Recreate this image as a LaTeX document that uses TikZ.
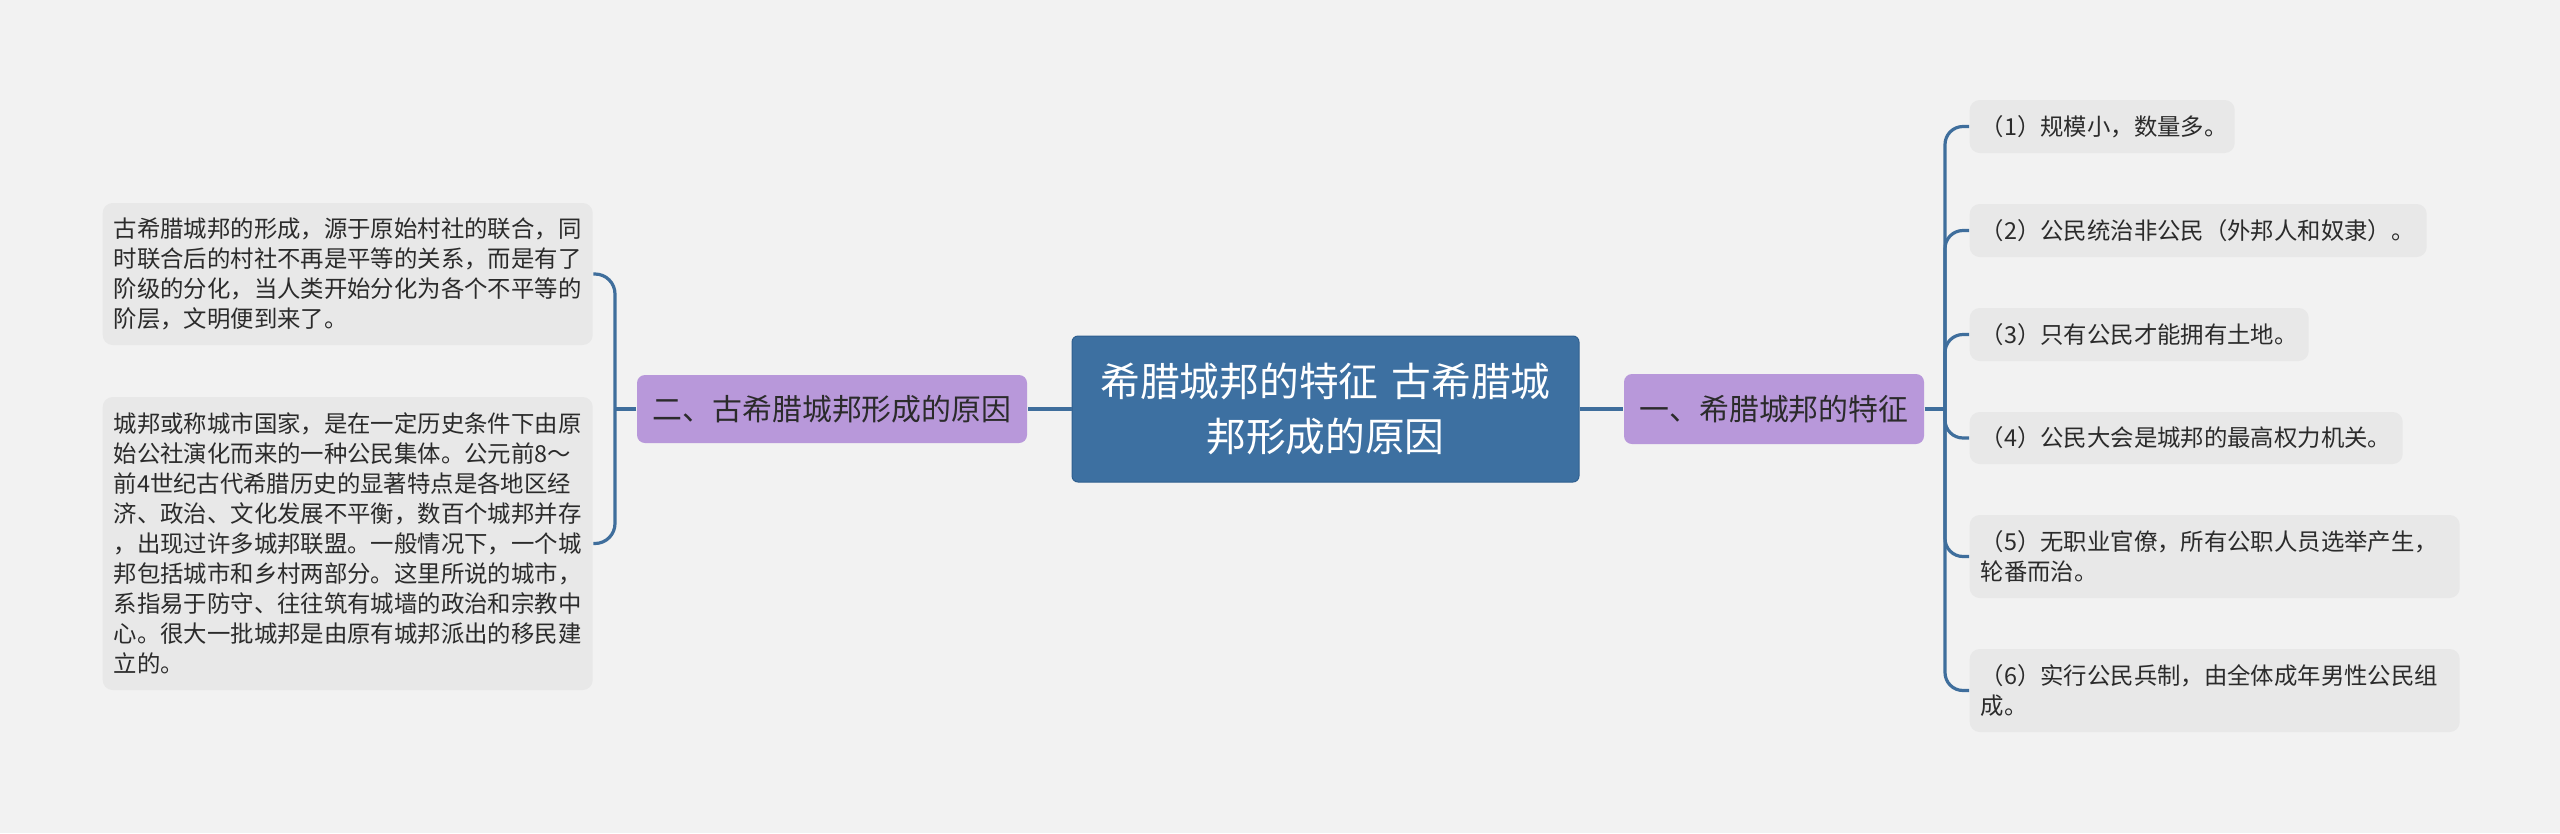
\documentclass[tikz,border=0pt]{standalone}
\usepackage{fontspec}
\setmainfont{Noto Sans CJK SC}
\definecolor{bg}{HTML}{F2F2F2}
\definecolor{rootblue}{HTML}{3D70A1}
\definecolor{rootedge}{HTML}{2F5F8F}
\definecolor{purp}{HTML}{B898DA}
\definecolor{leafc}{HTML}{E8E8E8}
\definecolor{txt}{HTML}{2B2B2B}
\definecolor{linkc}{HTML}{3F6E9C}
\newdimen\px \px=0.01cm
\begin{document}
\begin{tikzpicture}[x=0.01cm,y=-0.01cm,
  root/.style={fill=rootblue, draw=rootedge, line width=1\px, rounded corners=6\px, text=white, inner sep=0pt, font=\fontsize{11.3pt}{15.4pt}\selectfont, align=center},
  branch/.style={fill=purp, rounded corners=8\px, text=txt, inner sep=0pt, font=\fontsize{8.5pt}{10pt}\selectfont, align=center},
  leaf/.style={fill=leafc, rounded corners=10\px, text=txt, inner xsep=11\px, inner ysep=0pt, font=\fontsize{6.65pt}{8.53pt}\selectfont, align=left, anchor=west},
  link/.style={draw=linkc, line width=3.2\px}]
\path[fill=bg] (0,0) rectangle (2560,833);
\useasboundingbox (0,0) rectangle (2560,833);

\node[root, text width=500\px, minimum width=507\px, minimum height=146\px] (root) at (1325.5,409) {希腊城邦的特征 古希腊城\\邦形成的原因};

\node[branch, minimum width=390\px, minimum height=68\px] (lb) at (832,409) {二、古希腊城邦形成的原因};
\node[branch, minimum width=300\px, minimum height=70\px] (rb) at (1774,409) {一、希腊城邦的特征};

\node[leaf, text width=468\px, minimum height=142\px] (l1) at (102,274) {古希腊城邦的形成，源于原始村社的联合，同\\时联合后的村社不再是平等的关系，而是有了\\阶级的分化，当人类开始分化为各个不平等的\\阶层，文明便到来了。};
\node[leaf, text width=468\px, minimum height=293\px] (l2) at (102,543.5) {城邦或称城市国家，是在一定历史条件下由原\\始公社演化而来的一种公民集体。公元前8～\\前4世纪古代希腊历史的显著特点是各地区经\\济、政治、文化发展不平衡，数百个城邦并存\\，出现过许多城邦联盟。一般情况下，一个城\\邦包括城市和乡村两部分。这里所说的城市，\\系指易于防守、往往筑有城墙的政治和宗教中\\心。很大一批城邦是由原有城邦派出的移民建\\立的。};

\node[leaf, text width=243\px, minimum height=53\px] (r1) at (1969,126.5) {（1）规模小，数量多。};
\node[leaf, text width=435\px, minimum height=53\px] (r2) at (1969,230.5) {（2）公民统治非公民（外邦人和奴隶）。};
\node[leaf, text width=317\px, minimum height=53\px] (r3) at (1969,334.5) {（3）只有公民才能拥有土地。};
\node[leaf, text width=411\px, minimum height=52\px] (r4) at (1969,438) {（4）公民大会是城邦的最高权力机关。};
\node[leaf, text width=468\px, minimum height=83\px] (r5) at (1969,556.5) {（5）无职业官僚，所有公职人员选举产生，\\轮番而治。};
\node[leaf, text width=468\px, minimum height=83\px] (r6) at (1969,690.5) {（6）实行公民兵制，由全体成年男性公民组\\成。};

\draw[link] (root.west) -- (lb.east);
\draw[link] (root.east) -- (rb.west);

\coordinate (lj) at (615,409);
\draw[link] (lb.west) -- (lj);
\draw[link, rounded corners=20\px] (lj) |- (l1.east);
\draw[link, rounded corners=20\px] (lj) |- (l2.east);

\coordinate (rj) at (1945,409);
\draw[link] (rb.east) -- (rj);
\foreach \n in {r1,r2,r3,r4,r5,r6}
  \draw[link, rounded corners=18\px] (rj) |- (\n.west);
\end{tikzpicture}
\end{document}
